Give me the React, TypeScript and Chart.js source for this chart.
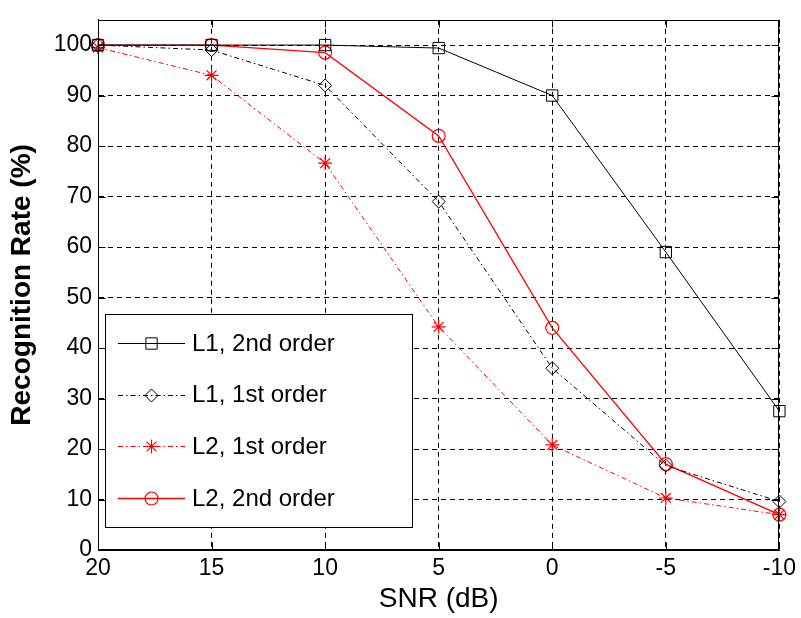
import React, { useEffect, useRef } from "react";
import { Chart, registerables } from "chart.js";
import { drawPoint } from "chart.js/helpers";

Chart.register(...registerables);

const categories = ["20", "15", "10", "5", "0", "-5", "-10"];
const l1Second = [100, 100, 100, 99.4, 90, 59, 27.5];
const l1First = [100, 99, 92, 69, 36, 16.7, 9.6];
const l2First = [99.5, 94, 76.6, 44.2, 20.8, 10.3, 7];
const l2Second = [100, 100, 98.5, 82, 44, 17, 7];
const seriesLabels = ["L1, 2nd order", "L1, 1st order", "L2, 1st order", "L2, 2nd order"];
const yTickValues = [0, 10, 20, 30, 40, 50, 60, 70, 80, 90, 100];

const FONT = "'Liberation Sans', Arial, sans-serif";

const framePlugin = {
  id: "matlabFrame",
  afterDatasetsDraw(chart: any) {
    const { ctx, chartArea: ca, scales } = chart;
    ctx.save();
    ctx.strokeStyle = "#000";
    ctx.lineWidth = 1;
    ctx.setLineDash([]);
    const L = Math.round(ca.left) + 0.5;
    const R = Math.round(ca.right) - 0.5;
    const T = Math.round(ca.top) + 0.5;
    const B = Math.round(ca.bottom) - 0.5;
    ctx.strokeRect(L, T, R - L, B - T);
    const tl = 7;
    ctx.beginPath();
    scales.x.ticks.forEach((_t: any, i: number) => {
      const x = Math.round(scales.x.getPixelForTick(i)) + 0.5;
      ctx.moveTo(x, B);
      ctx.lineTo(x, B - tl);
      ctx.moveTo(x, T);
      ctx.lineTo(x, T + tl);
    });
    scales.y.ticks.forEach((t: any) => {
      const y = Math.round(scales.y.getPixelForValue(t.value)) + 0.5;
      ctx.moveTo(L, y);
      ctx.lineTo(L + tl, y);
      ctx.moveTo(R, y);
      ctx.lineTo(R - tl, y);
    });
    ctx.stroke();
    ctx.restore();
  },
  afterDraw(chart: any) {
    const { ctx, chartArea: ca } = chart;
    const bx = ca.left + 7;
    const bw = 307;
    const bh = 213;
    const by = ca.bottom - 23 - bh;
    ctx.save();
    ctx.fillStyle = "#fff";
    ctx.fillRect(bx, by, bw, bh);
    ctx.strokeStyle = "#000";
    ctx.lineWidth = 1;
    ctx.setLineDash([]);
    ctx.strokeRect(Math.round(bx) + 0.5, Math.round(by) + 0.5, bw, bh);
    chart.data.datasets.forEach((ds: any, i: number) => {
      const y = by + 29 + i * 51.7;
      const x0 = bx + 13;
      const x1 = bx + 80;
      ctx.strokeStyle = ds.borderColor;
      ctx.lineWidth = ds.borderWidth;
      ctx.setLineDash(ds.borderDash || []);
      ctx.beginPath();
      ctx.moveTo(x0, Math.round(y) + 0.5);
      ctx.lineTo(x1, Math.round(y) + 0.5);
      ctx.stroke();
      ctx.setLineDash([]);
      ctx.strokeStyle = ds.pointBorderColor;
      ctx.fillStyle = "rgba(0,0,0,0)";
      ctx.lineWidth = ds.pointBorderWidth;
      drawPoint(ctx, { pointStyle: ds.pointStyle, radius: ds.pointRadius, borderWidth: ds.pointBorderWidth, rotation: 0 } as any, (x0 + x1) / 2, Math.round(y) + 0.5);
      ctx.fillStyle = "#000";
      ctx.font = `24px ${FONT}`;
      ctx.textBaseline = "middle";
      ctx.textAlign = "left";
      ctx.fillText(ds.label, bx + 87, y + 1);
    });
    ctx.restore();
  },
};

export default function App() {
  const ref = useRef<HTMLCanvasElement>(null);
  useEffect(() => {
    if (!ref.current) return;
    const chart = new Chart(ref.current, {
      type: "line",
      data: {
        labels: categories,
        datasets: [
          {
            label: seriesLabels[0],
            data: l1Second,
            borderColor: "#000",
            borderWidth: 1,
            pointStyle: "rect",
            pointRadius: 8,
            pointBorderColor: "#000",
            pointBackgroundColor: "rgba(0,0,0,0)",
            pointBorderWidth: 1,
          },
          {
            label: seriesLabels[1],
            data: l1First,
            borderColor: "#000",
            borderWidth: 1,
            borderDash: [5, 3, 1.5, 3],
            pointStyle: "rectRot",
            pointRadius: 6.5,
            pointBorderColor: "#000",
            pointBackgroundColor: "rgba(0,0,0,0)",
            pointBorderWidth: 1,
          },
          {
            label: seriesLabels[2],
            data: l2First,
            borderColor: "#ff0000",
            borderWidth: 1,
            borderDash: [5, 3, 1.5, 3],
            pointStyle: "star",
            pointRadius: 7,
            pointBorderColor: "#ff0000",
            pointBackgroundColor: "rgba(0,0,0,0)",
            pointBorderWidth: 1.2,
          },
          {
            label: seriesLabels[3],
            data: l2Second,
            borderColor: "#ff0000",
            borderWidth: 1.3,
            pointStyle: "circle",
            pointRadius: 6.5,
            pointBorderColor: "#ff0000",
            pointBackgroundColor: "rgba(0,0,0,0)",
            pointBorderWidth: 1.2,
          },
        ],
      },
      options: {
        responsive: false,
        animation: false,
        devicePixelRatio: 1,
        layout: { padding: { left: 0, top: 7, right: 16, bottom: 0 } },
        elements: { line: { tension: 0 } },
        plugins: { legend: { display: false }, tooltip: { enabled: false } },
        scales: {
          x: {
            type: "category",
            offset: false,
            grid: { color: "#000", lineWidth: 1, drawTicks: false, offset: false },
            border: { display: true, color: "#000", dash: [5, 4] },
            ticks: { color: "#000", font: { family: FONT, size: 23 }, padding: 5, maxRotation: 0, autoSkip: false },
            title: {
              display: true,
              text: "SNR (dB)",
              color: "#000",
              font: { family: FONT, size: 28, lineHeight: 1.2 },
              padding: { top: 0, bottom: 2 },
            },
            afterFit: (s: any) => {
              s.height = 68;
            },
          },
          y: {
            type: "linear",
            min: 0,
            max: 105,
            grid: { color: "#000", lineWidth: 1, drawTicks: false },
            border: { display: true, color: "#000", dash: [5, 4] },
            ticks: { stepSize: 10, color: "#000", font: { family: FONT, size: 23 }, padding: 6 },
            afterBuildTicks: (s: any) => {
              s.ticks = yTickValues.map((v) => ({ value: v }));
            },
            title: {
              display: true,
              text: "Recognition Rate (%)",
              color: "#000",
              font: { family: FONT, size: 28, weight: "bold", lineHeight: 1.2 },
              padding: { top: 5, bottom: 0 },
            },
            afterFit: (s: any) => {
              s.width = 98;
            },
          },
        },
      },
      plugins: [framePlugin],
    });
    return () => chart.destroy();
  }, []);
  return (
    <div style={{ position: "absolute", left: 0, top: 0, width: 801, height: 618, background: "#fff" }}>
      <canvas ref={ref} width={801} height={618} style={{ width: 801, height: 618, display: "block" }} />
    </div>
  );
}
